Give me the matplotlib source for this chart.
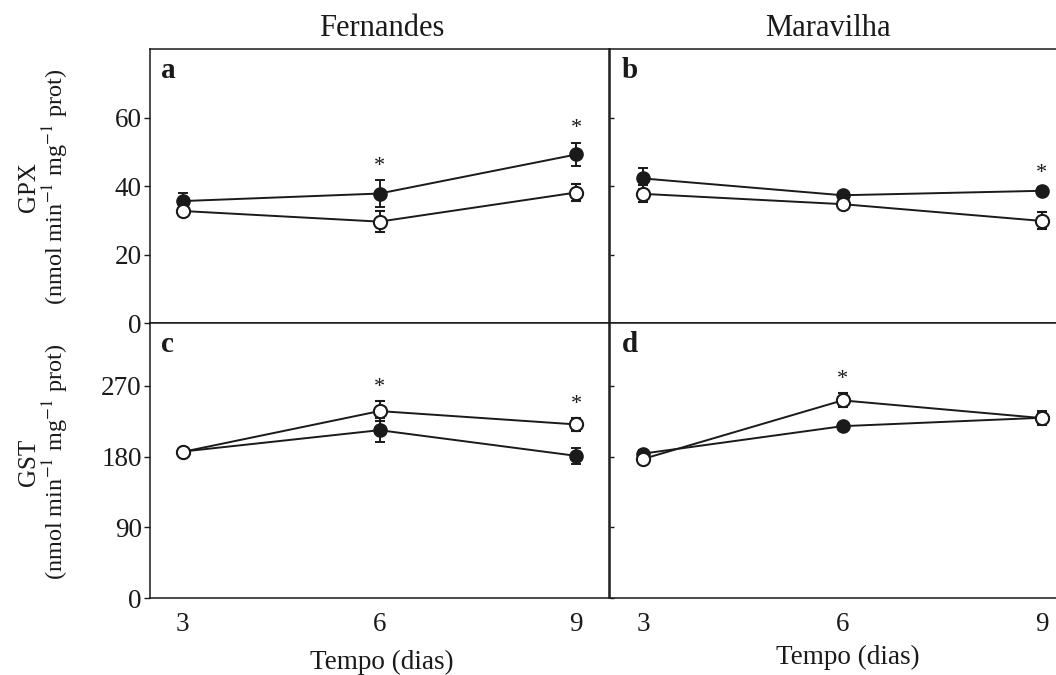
import matplotlib
matplotlib.use("Agg")
import matplotlib.pyplot as plt

plt.rcParams['font.family'] = ['Liberation Serif', 'DejaVu Serif']
plt.rcParams['mathtext.fontset'] = 'stix'

days = [3, 6, 9]
cultivars = ["Fernandes", "Maravilha"]

# GPX (top row)
gpx_filled = [[35.6, 37.8, 49.2], [42.2, 37.3, 38.6]]
gpx_filled_err = [[2.5, 3.9, 3.5], [3.0, 1.0, 1.0]]
gpx_open = [[32.7, 29.6, 38.1], [37.7, 34.7, 29.8]]
gpx_open_err = [[1.5, 3.0, 2.6], [2.5, 1.2, 2.5]]
gpx_star = [[(1, "filled"), (2, "filled")], [(2, "filled")]]

# GST (bottom row)
gst_filled = [[186.4, 213.6, 180.9], [183.8, 218.7, 229.4]]
gst_filled_err = [[4, 15, 10], [5, 3, 9]]
gst_open = [[186.0, 237.9, 220.9], [177.0, 251.5, 229.0]]
gst_open_err = [[4, 13, 8], [6, 9, 6]]
gst_star = [[(1, "open"), (2, "open")], [(1, "open")]]

letters = [["a", "b"], ["c", "d"]]
ink = "#1a1a1a"

W, H = 1056, 675
fig = plt.figure(figsize=(W / 100, H / 100), dpi=100)

def px_axes(x0, y0, x1, y1):
    return fig.add_axes([x0 / W, 1 - y1 / H, (x1 - x0) / W, (y1 - y0) / H])

rows = [
    dict(f=gpx_filled, fe=gpx_filled_err, o=gpx_open, oe=gpx_open_err, st=gpx_star,
         ylim=(0, 80), yt=[0, 20, 40, 60], y0=49, y1=323),
    dict(f=gst_filled, fe=gst_filled_err, o=gst_open, oe=gst_open_err, st=gst_star,
         ylim=(0, 350), yt=[0, 90, 180, 270], y0=323, y1=598),
]
cols = [(150, 609), (610, 1075)]

for r, row in enumerate(rows):
    for c, (x0, x1) in enumerate(cols):
        ax = px_axes(x0, row["y0"], x1, row["y1"])
        ax.errorbar(days, row["f"][c], yerr=row["fe"][c], color=ink, lw=1.4,
                    marker="o", ms=9.5, mfc=ink, mec=ink, capsize=3.5,
                    elinewidth=1.4, capthick=1.4, zorder=3)
        ax.errorbar(days, row["o"][c], yerr=row["oe"][c], color=ink, lw=1.4,
                    marker="o", ms=9.5, mfc="white", mec=ink, mew=1.5, capsize=3.5,
                    elinewidth=1.4, capthick=1.4, zorder=4)
        for i, kind in row["st"][c]:
            if kind == "filled":
                yv = row["f"][c][i] + row["fe"][c][i]
            else:
                yv = row["o"][c][i] + row["oe"][c][i]
            ax.annotate("*", (days[i], yv), xytext=(0, 3), textcoords="offset points",
                        ha="center", va="bottom", fontsize=16, color=ink)
        ax.set_xlim(2.5, 9.5)
        ax.set_ylim(*row["ylim"])
        ax.set_yticks(row["yt"])
        ax.set_xticks(days)
        ax.tick_params(axis="x", length=0, pad=10, labelsize=19.5, colors=ink)
        if c == 0:
            ax.tick_params(axis="y", direction="out", length=4, width=1,
                           labelsize=19.5, colors=ink, pad=2)
        else:
            ax.tick_params(axis="y", direction="in", length=3, width=1,
                           labelleft=False, colors=ink)
        if r == 0:
            ax.tick_params(axis="x", labelbottom=False)
            ax.spines["bottom"].set_linewidth(2)
        for s in ax.spines.values():
            s.set_color(ink)
            s.set_linewidth(max(s.get_linewidth(), 1.1))
        ax.text(0.025, 0.97, letters[r][c], transform=ax.transAxes, ha="left", va="top",
                fontsize=21, fontweight="bold", color=ink)

fig.text(382 / W, 1 - 28 / H, "Fernandes", ha="center", va="center", fontsize=22, color=ink)
fig.text(828 / W, 1 - 28 / H, "Maravilha", ha="center", va="center", fontsize=22, color=ink)
fig.text(382 / W, 1 - 662 / H, "Tempo (dias)", ha="center", va="center", fontsize=19.5, color=ink)
fig.text(848 / W, 1 - 657 / H, "Tempo (dias)", ha="center", va="center", fontsize=19.5, color=ink)

unit = "(nmol min$^{-1}$ mg$^{-1}$ prot)"
for name, yc in [("GPX", 187), ("GST", 462)]:
    fig.text(29 / W, 1 - yc / H, name, rotation=90, ha="center", va="center",
             fontsize=18, color=ink)
    fig.text(56 / W, 1 - yc / H, unit, rotation=90, ha="center", va="center",
             fontsize=17.5, color=ink)

fig.savefig("out.png", dpi=100, facecolor="white")
